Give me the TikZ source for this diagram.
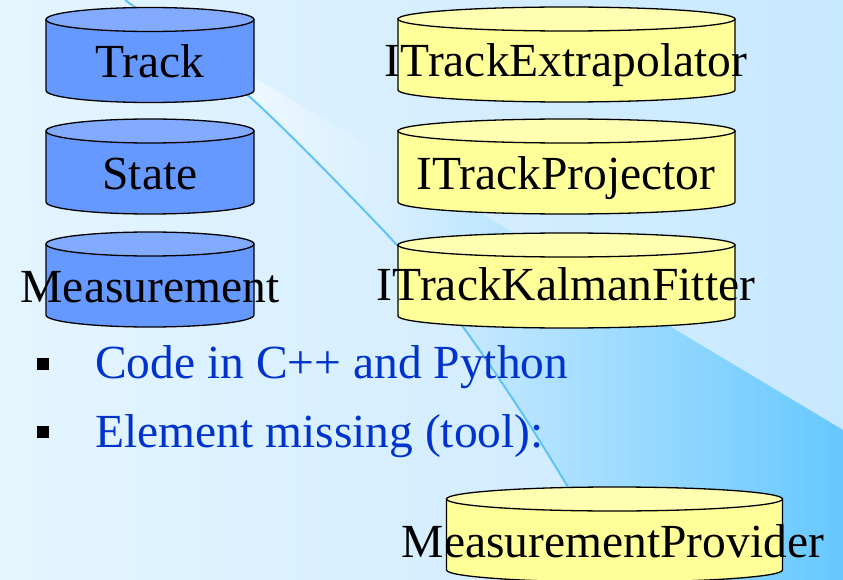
\documentclass[tikz,border=0pt]{standalone}
\usepackage{fontspec}
\setmainfont{Liberation Serif}
\usetikzlibrary{positioning}

\definecolor{slidebgl}{RGB}{228,245,255}
\definecolor{slidebgr}{RGB}{200,232,255}
\definecolor{swooshmid}{RGB}{214,238,255}
\definecolor{swooshblue}{RGB}{102,200,255}
\definecolor{swooshline}{RGB}{95,195,245}
\definecolor{dbbody}{RGB}{102,153,255}
\definecolor{dbtop}{RGB}{130,170,255}
\definecolor{ifbody}{RGB}{255,255,153}
\definecolor{iftop}{RGB}{255,255,178}
\definecolor{itemblue}{RGB}{0,51,204}

\pgfdeclarehorizontalshading{swoosh}{100bp}{%
  color(0bp)=(white); color(26bp)=(white);
  color(44bp)=(swooshmid); color(75bp)=(swooshblue);
  color(100bp)=(swooshblue)}

\begin{document}
\begin{tikzpicture}[
  x=1pt, y=-1pt,
  cylbody/.style={draw=black, line width=1.3pt, line join=round},
  cyltop/.style={draw=black, line width=1.3pt},
  cyltxt/.style={font=\fontsize{47.5}{57}\selectfont, inner sep=0pt,
                 anchor=base},
  itemtxt/.style={font=\fontsize{47.5}{57}\selectfont, text=itemblue,
                  inner sep=0pt, anchor=base west},
  itembox/.style={fill=black, inner sep=0pt, minimum size=12pt},
]

\useasboundingbox (0,0) rectangle (843,580);

% ------------------- slide background -------------------
\shade[left color=slidebgl, right color=slidebgr] (0,0) rectangle (843,580);
\shade[shading=swoosh] (125,0) -- (843,430) -- (843,580)
  -- plot[smooth] coordinates {(623,580) (568,487) (520,410) (463,327)
                               (397,245) (250,97) (125,0)} -- cycle;
\draw[swooshline, line width=2pt]
  plot[smooth] coordinates {(125,0) (250,97) (397,245) (463,327)
                            (520,410) (568,487) (623,580)};

% ------------------- cylinders -------------------
\foreach \cx/\cy/\rx/\cb/\ct in {150/19.5/104/dbbody/dbtop,
    150/131/104/dbbody/dbtop, 150/244/104/dbbody/dbtop,
    566.5/19/168.5/ifbody/iftop, 566.5/131/168.5/ifbody/iftop,
    566.5/245/168.5/ifbody/iftop, 614.5/499/168/ifbody/iftop} {
  \filldraw[cylbody, fill=\cb] ({\cx-\rx},\cy) -- ({\cx-\rx},\cy+71)
    arc[start angle=180, end angle=0, x radius=\rx, y radius=12]
    -- ({\cx+\rx},\cy) -- cycle;
  \filldraw[cyltop, fill=\ct] (\cx,\cy) ellipse[x radius=\rx, y radius=12];
}

% data classes (left column)
\node[cyltxt] (track) at (150,78) {Track};
\node[cyltxt] (state) at (150,190) {State};
\node[cyltxt] (meas) at (150,302) {Measurement};

% tool interfaces (right column)
\node[cyltxt] (extrap) at (566,77) {ITrackExtrapolator};
\node[cyltxt] (proj) at (566,190) {ITrackProjector};
\node[cyltxt] (kalman) at (566,300) {ITrackKalmanFitter};

% ------------------- bullet list -------------------
\node[itembox] (bul1) at (43,363.5) {};
\node[itemtxt] (code) at (95,378) {Code in C++ and Python};
\node[itembox] (bul2) at (43,431.5) {};
\node[itemtxt] (missing) at (95,447) {Element missing (tool):};

% missing element
\node[cyltxt] (mprov) at (613,557) {MeasurementProvider};

\end{tikzpicture}
\end{document}
